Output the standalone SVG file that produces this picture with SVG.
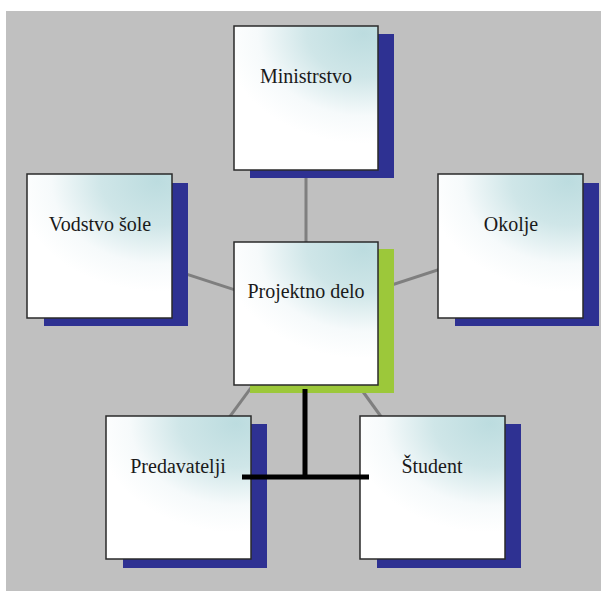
<svg xmlns="http://www.w3.org/2000/svg" width="601" height="593" viewBox="0 0 601 593">
<defs>
<radialGradient id="boxfill" cx="0.9" cy="0.05" r="0.85" gradientTransform="translate(0.9 0.05) scale(1.15 0.9) translate(-0.9 -0.05)">
<stop offset="0" stop-color="#bcdcdf"/>
<stop offset="0.4" stop-color="#cfe6e8"/>
<stop offset="0.75" stop-color="#f6fafb"/>
<stop offset="1" stop-color="#ffffff"/>
</radialGradient>
</defs>
<style>
.box{fill:url(#boxfill);stroke:#2a2a2a;stroke-width:1.5}
.shadow{fill:#2e3192}
.green{fill:#9cc83a}
.lbl{font-size:20px;fill:#1a1a1a;text-anchor:middle}
.conn{stroke:#7f7f7f;stroke-width:3;fill:none}
.bus{stroke:#000;stroke-width:5;fill:none}
</style>
<rect x="0" y="0" width="601" height="593" fill="#ffffff"/>
<rect x="6" y="11" width="595" height="580" fill="#c0c0c0"/>
<g id="connectors">
<line class="conn" x1="306" y1="98" x2="306" y2="313"/>
<line class="conn" x1="100" y1="246" x2="306" y2="313"/>
<line class="conn" x1="511" y1="246" x2="306" y2="313"/>
<line class="conn" x1="178" y1="487" x2="306" y2="313"/>
<line class="conn" x1="432" y1="487" x2="306" y2="313"/>
</g>
<g id="ministrstvo">
<rect class="shadow" x="250" y="34" width="144" height="144"/>
<rect class="box" x="234" y="26" width="144" height="144"/>
<text class="lbl" font-family="Liberation Serif, Times New Roman, serif" x="306" y="83">Ministrstvo</text>
</g>
<g id="vodstvo">
<rect class="shadow" x="44" y="183" width="144" height="143"/>
<rect class="box" x="27" y="174" width="145" height="144"/>
<text class="lbl" font-family="Liberation Serif, Times New Roman, serif" x="100" y="231">Vodstvo šole</text>
</g>
<g id="okolje">
<rect class="shadow" x="455" y="183" width="144" height="143"/>
<rect class="box" x="438" y="174" width="145" height="144"/>
<text class="lbl" font-family="Liberation Serif, Times New Roman, serif" x="511" y="231">Okolje</text>
</g>
<g id="projektno">
<rect class="green" x="250" y="249" width="144" height="144"/>
<rect class="box" x="234" y="242" width="144" height="143"/>
<text class="lbl" font-family="Liberation Serif, Times New Roman, serif" x="306" y="298">Projektno delo</text>
</g>
<g id="predavatelji">
<rect class="shadow" x="123" y="424" width="144" height="144"/>
<rect class="box" x="106" y="416" width="145" height="143"/>
<text class="lbl" font-family="Liberation Serif, Times New Roman, serif" x="178" y="473">Predavatelji</text>
</g>
<g id="student">
<rect class="shadow" x="377" y="424" width="144" height="144"/>
<rect class="box" x="360" y="416" width="145" height="143"/>
<text class="lbl" font-family="Liberation Serif, Times New Roman, serif" x="432" y="473">Študent</text>
</g>
<g id="bus-connector">
<line class="bus" x1="305" y1="389" x2="305" y2="477"/>
<line class="bus" x1="242" y1="477" x2="369" y2="477"/>
</g>
</svg>
